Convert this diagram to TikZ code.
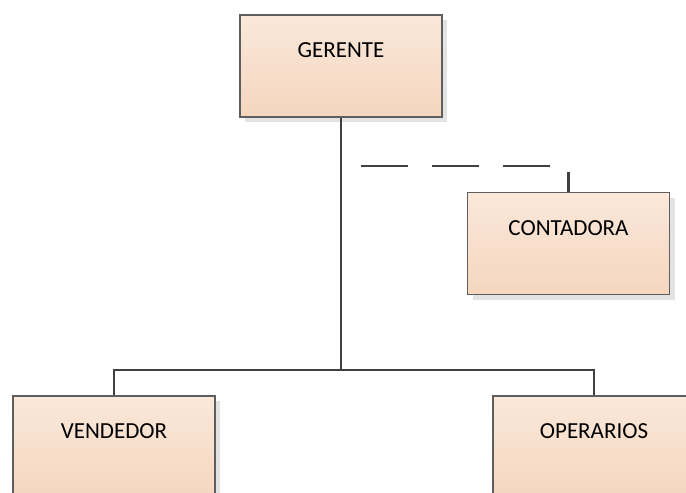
\documentclass[tikz,border=0pt]{standalone}
\usepackage{fontspec}
\setmainfont{Carlito}
\usetikzlibrary{shadows}
\definecolor{boxtop}{HTML}{FAE8DA}
\definecolor{boxbot}{HTML}{F5D6BF}
\definecolor{boxedge}{HTML}{5E5E5E}
\definecolor{linkcol}{HTML}{404040}
\definecolor{shadowcol}{HTML}{E3E3E3}
\tikzset{
  orgbox/.style={rectangle, draw=boxedge, line width=1.2pt,
    top color=boxtop, bottom color=boxbot,
    minimum width=202pt, minimum height=102pt, inner sep=0pt,
    general shadow={fill=shadowcol, shadow xshift=5pt, shadow yshift=-5pt}},
  boxtitle/.style={anchor=center, yshift=-36pt, inner sep=0pt,
    font=\fontsize{23}{28}\selectfont},
  link/.style={draw=linkcol, line width=2.8pt},
  dashlink/.style={draw=linkcol, line width=2.8pt,
    dash pattern=on 47pt off 24pt, dash phase=27pt}
}
\begin{document}
\begin{tikzpicture}[x=1pt, y=-1pt]
  \useasboundingbox (0,0) rectangle (686,493);
  \clip (0,0) rectangle (686,493);

  % boxes of the chart
  \node[orgbox, label={[boxtitle]north:GERENTE}] (ger) at (341,66) {};
  \node[orgbox, label={[boxtitle]north:CONTADORA}] (con) at (568.5,243.5) {};
  \node[orgbox, label={[boxtitle]north:VENDEDOR}] (ven) at (114,447) {};
  \node[orgbox, label={[boxtitle]north:OPERARIOS}] (ope) at (594,447) {};

  % junction points on the main line
  \coordinate (bus) at (341,370);
  \coordinate (staff) at (341,166);

  % solid hierarchy lines
  \draw[link] (ger.south) -- (bus);
  \draw[link] (ven.north) |- (bus) -| (ope.north);

  % dashed staff line to the accountant
  \draw[dashlink] (con.north) |- (staff);
\end{tikzpicture}
\end{document}
